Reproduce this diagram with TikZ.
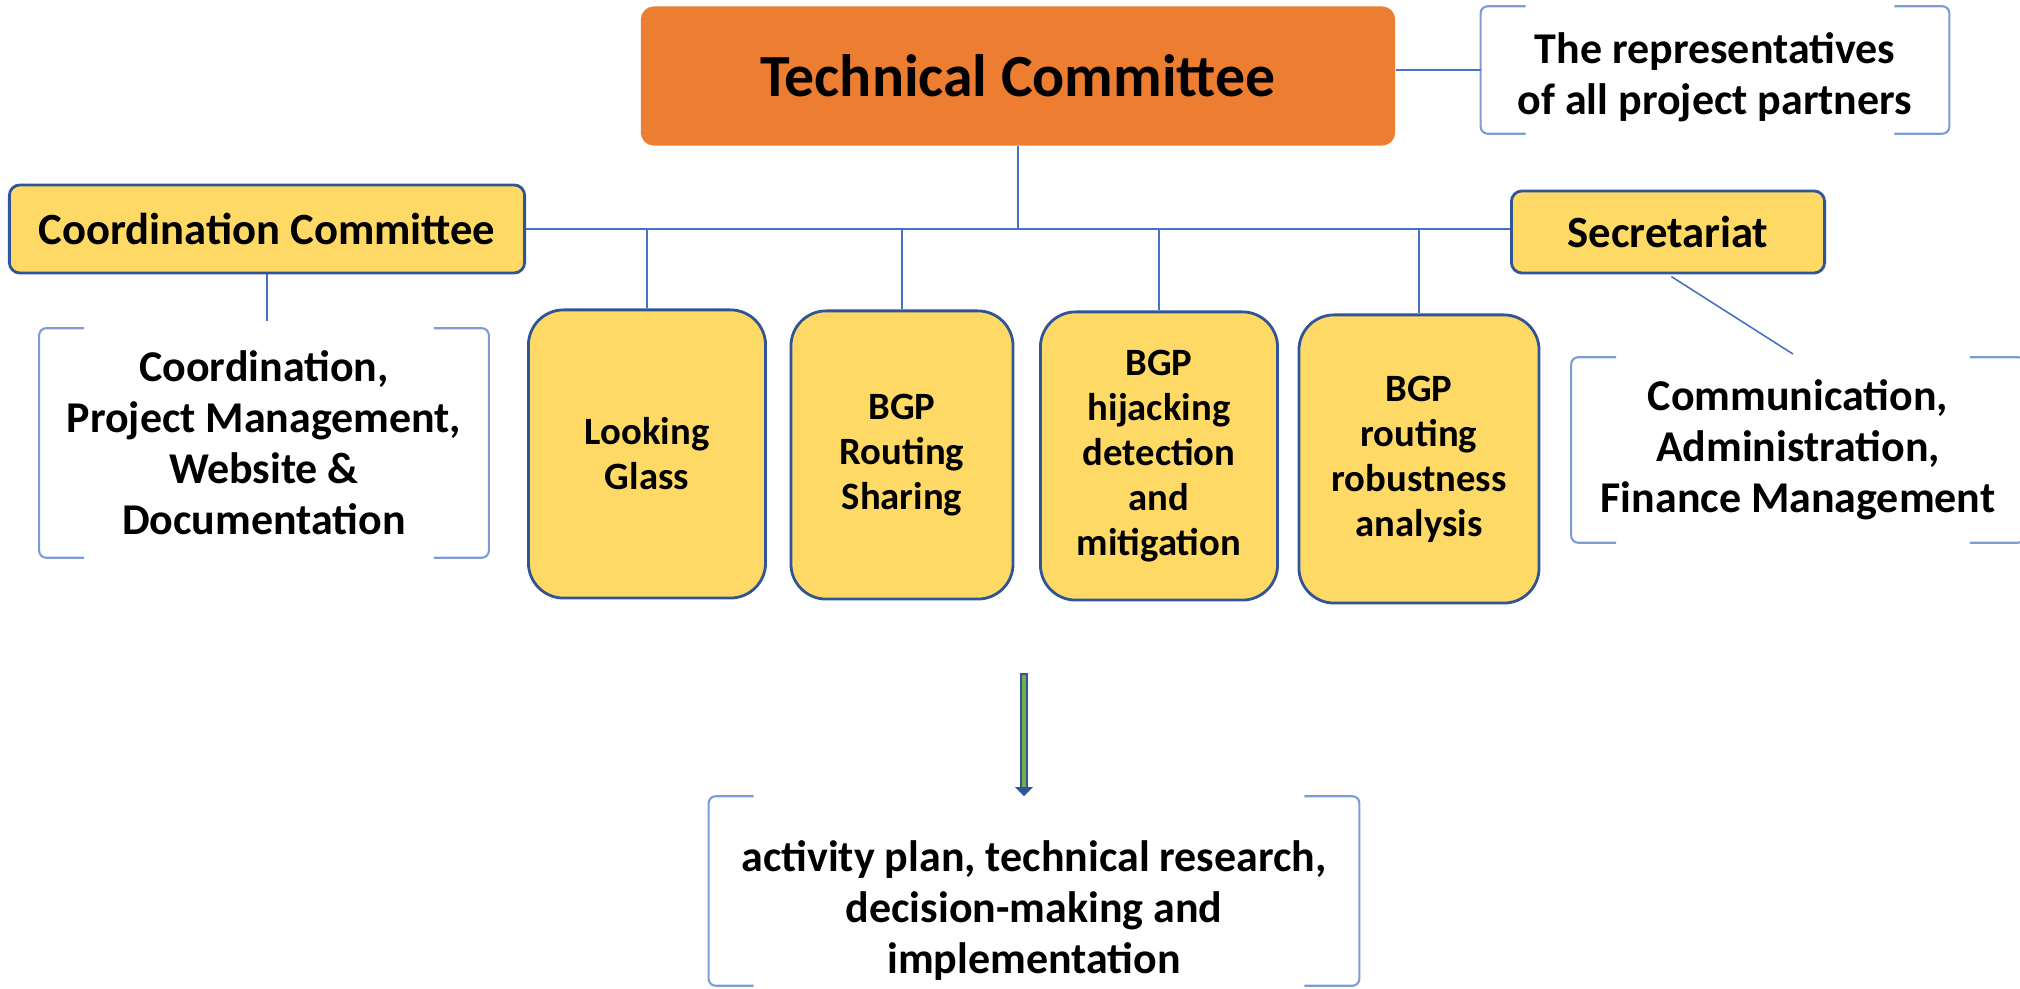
\documentclass[tikz,border=0pt]{standalone}
\usepackage{fontspec}
\setmainfont{Carlito}
\usepackage{tikz}
\usetikzlibrary{arrows.meta,calc,positioning}
\definecolor{corange}{HTML}{ED7D31}
\definecolor{cyellow}{HTML}{FFD966}
\definecolor{cedge}{HTML}{2F5597}
\definecolor{cline}{HTML}{4472C4}
\definecolor{cbrack}{HTML}{7C9CD8}
\definecolor{cgreen}{HTML}{70AD47}
\tikzset{
  clink/.style={cline, line width=0.45pt},
  chead/.style={rounded corners=3.7pt, fill=corange, draw=none, align=center,
                font=\fontsize{17}{20}\selectfont\bfseries, inner sep=0pt},
  cside/.style={rounded corners=3pt, fill=cyellow, draw=cedge, line width=0.8pt,
                align=center, font=\fontsize{12.7}{14}\selectfont\bfseries, inner sep=0pt},
  ctask/.style={rounded corners=10pt, fill=cyellow, draw=cedge, line width=0.8pt,
                align=center, minimum width=2.37cm, minimum height=2.88cm,
                font=\fontsize{11}{12.8}\selectfont\bfseries, inner sep=0pt},
  cnote/.style={align=center, inner sep=0pt,
                font=\fontsize{12.5}{14.5}\selectfont\bfseries},
  cbr/.style={cbrack, line width=0.6pt, rounded corners=2pt},
  carrow/.style={cedge, line width=2pt, -{Triangle[width=5pt,length=2.6pt]}},
}
\newcommand{\notebrackets}[1]{%
  \draw[cbr] ([xshift=0.45cm]#1.north west) -- (#1.north west)
             -- (#1.south west) -- ([xshift=0.45cm]#1.south west);
  \draw[cbr] ([xshift=-0.55cm]#1.north east) -- (#1.north east)
             -- (#1.south east) -- ([xshift=-0.55cm]#1.south east);}

\begin{document}
\begin{tikzpicture}[x=0.01cm,y=-0.01cm]
  \useasboundingbox (0,0) rectangle (2020,989);

  % technical committee
  \node[chead, minimum width=7.54cm, minimum height=1.39cm] (tc) at (1018,76)
        {Technical Committee};
  \node[cnote, minimum width=4.67cm, minimum height=1.26cm] (reps) at (1715,70)
        {\rule{0pt}{13pt}The representatives\\of all project partners};
  \notebrackets{reps}
  \draw[clink] (reps.west) -- (reps.west -| tc.east);

  % coordination / secretariat
  \node[cside, minimum width=5.15cm, minimum height=0.88cm] (coord) at (267,229)
        {Coordination Committee};
  \node[cside, minimum width=3.13cm, minimum height=0.82cm] (secr) at (1668,232)
        {Secretariat};
  \draw[clink] (coord.east) -- (coord.east -| secr.west);
  \draw[clink] (tc.south) -- (tc.south |- coord.east);

  % work packages
  \node[ctask] (lg) at (647,454) {Looking\\Glass};
  \node[ctask, minimum width=2.22cm] (share) at (902,455) {BGP\\Routing\\Sharing};
  \node[ctask] (hijack) at (1159,456) {BGP\\hijacking\\detection\\and\\mitigation};
  \node[ctask, minimum width=2.40cm] (robust) at (1419,459)
        {BGP\\routing\\robustness\\analysis};
  \foreach \t in {lg,share,hijack,robust}
    \draw[clink] (\t.north) -- (\t.north |- coord.east);

  % notes
  \node[cnote, minimum width=4.48cm, minimum height=2.28cm] (cwork) at (264,443)
        {Coordination,\\Project Management,\\Website \&\\Documentation};
  \notebrackets{cwork}
  \draw[clink, shorten >=0.07cm] (coord.south) -- (coord.south |- cwork.north);

  \node[cnote, minimum width=4.52cm, minimum height=1.84cm] (admin) at (1798,450)
        {Communication,\\Administration,\\Finance Management};
  \notebrackets{admin}
  \draw[clink, shorten <=0.04cm, shorten >=0.06cm] (secr.south) -- (admin.north);

  % result
  \node[cnote, minimum width=6.49cm, minimum height=1.88cm] (plan) at (1034,891)
        {\rule{0pt}{20pt}activity plan, technical research,\\decision-making and\\implementation};
  \notebrackets{plan}
  \coordinate (atop) at (1024,673);
  \draw[carrow] (atop) -- (atop |- plan.north);
  \draw[cgreen, line width=1.1pt, shorten <=0.6pt, shorten >=2.7pt]
        (atop) -- (atop |- plan.north);

\end{tikzpicture}
\end{document}
